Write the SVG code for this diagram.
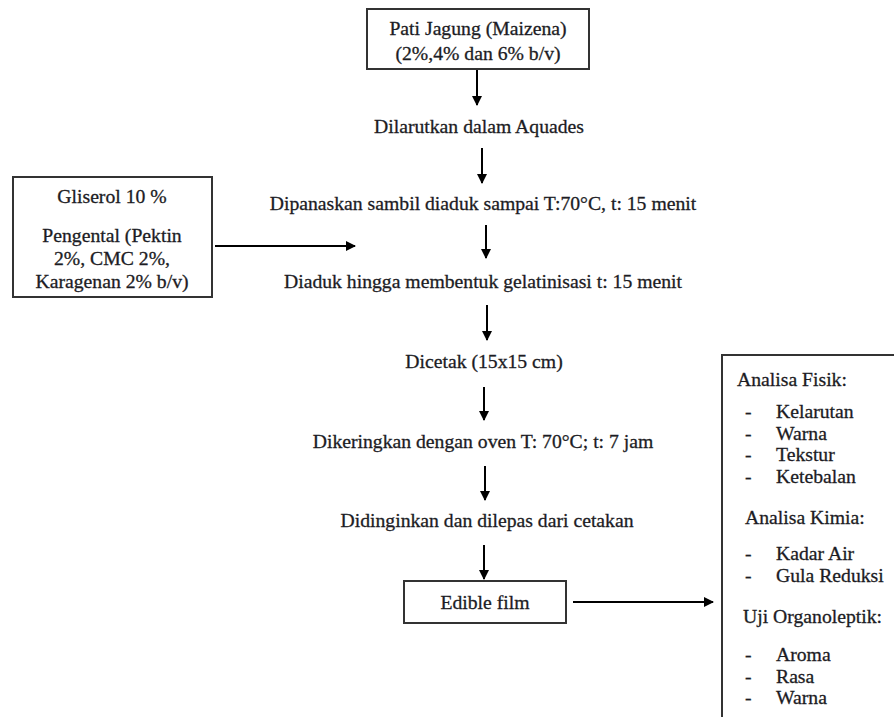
<svg xmlns="http://www.w3.org/2000/svg" width="894" height="717" viewBox="0 0 894 717">
<defs>
<style>
text{font-family:"Liberation Serif","Times New Roman",serif;font-size:19.7px;fill:#1c1c24;stroke:#1c1c24;stroke-width:0.3px}
.c{text-anchor:middle}
.box{fill:#fff;stroke:#333;stroke-width:2}
.ln{stroke:#000;stroke-width:2;fill:none}
</style>
<marker id="ah" viewBox="0 0 10 10" refX="9" refY="5" markerWidth="5" markerHeight="5" orient="auto" markerUnits="strokeWidth">
<path d="M0,0 L10,5 L0,10 z" fill="#000"/>
</marker>
</defs>
<rect width="894" height="717" fill="#fff"/>
<g id="connectors">
<line class="ln" x1="477" y1="70" x2="477" y2="105" marker-end="url(#ah)"/>
<line class="ln" x1="482" y1="148" x2="482" y2="183" marker-end="url(#ah)"/>
<line class="ln" x1="486" y1="225" x2="486" y2="258" marker-end="url(#ah)"/>
<line class="ln" x1="487" y1="305" x2="487" y2="340" marker-end="url(#ah)"/>
<line class="ln" x1="484" y1="387" x2="484" y2="420" marker-end="url(#ah)"/>
<line class="ln" x1="485" y1="466" x2="485" y2="500" marker-end="url(#ah)"/>
<line class="ln" x1="484" y1="545" x2="484" y2="579" marker-end="url(#ah)"/>
<line class="ln" x1="215" y1="246" x2="355" y2="246" marker-end="url(#ah)"/>
<line class="ln" x1="573" y1="602" x2="713" y2="602" marker-end="url(#ah)"/>
</g>
<g id="n-pati">
<rect class="box" x="367" y="9" width="222" height="60"/>
<text class="c" x="478" y="35">Pati Jagung (Maizena)</text>
<text class="c" x="478" y="60">(2%,4% dan 6% b/v)</text>
</g>
<g id="n-dilarutkan"><text class="c" x="479" y="133">Dilarutkan dalam Aquades</text></g>
<g id="n-dipanaskan"><text class="c" x="483" y="210">Dipanaskan sambil diaduk sampai T:70°C, t: 15 menit</text></g>
<g id="n-gliserol">
<rect class="box" x="13" y="177" width="199" height="120"/>
<text class="c" x="112" y="203">Gliserol 10 %</text>
<text class="c" x="112" y="242">Pengental (Pektin</text>
<text class="c" x="112" y="265">2%, CMC 2%,</text>
<text class="c" x="112" y="288">Karagenan 2% b/v)</text>
</g>
<g id="n-diaduk"><text class="c" x="483" y="288">Diaduk hingga membentuk gelatinisasi t: 15 menit</text></g>
<g id="n-dicetak"><text class="c" x="484" y="368">Dicetak (15x15 cm)</text></g>
<g id="n-dikeringkan"><text class="c" x="483" y="448">Dikeringkan dengan oven T: 70°C; t: 7 jam</text></g>
<g id="n-didinginkan"><text class="c" x="487" y="527">Didinginkan dan dilepas dari cetakan</text></g>
<g id="n-edible">
<rect class="box" x="404" y="581" width="162" height="42"/>
<text class="c" x="485" y="609">Edible film</text>
</g>
<g id="n-analisa">
<rect class="box" x="722" y="355" width="200" height="400"/>
<text x="737" y="386">Analisa Fisik:</text>
<text x="745" y="418">-</text><text x="776" y="418">Kelarutan</text>
<text x="745" y="440">-</text><text x="776" y="440">Warna</text>
<text x="745" y="461">-</text><text x="776" y="461">Tekstur</text>
<text x="745" y="483">-</text><text x="776" y="483">Ketebalan</text>
<text x="745" y="524">Analisa Kimia:</text>
<text x="745" y="560">-</text><text x="776" y="560">Kadar Air</text>
<text x="745" y="582">-</text><text x="776" y="582">Gula Reduksi</text>
<text x="743" y="623">Uji Organoleptik:</text>
<text x="745" y="661">-</text><text x="776" y="661">Aroma</text>
<text x="745" y="683">-</text><text x="776" y="683">Rasa</text>
<text x="745" y="704">-</text><text x="776" y="704">Warna</text>
</g>
</svg>
